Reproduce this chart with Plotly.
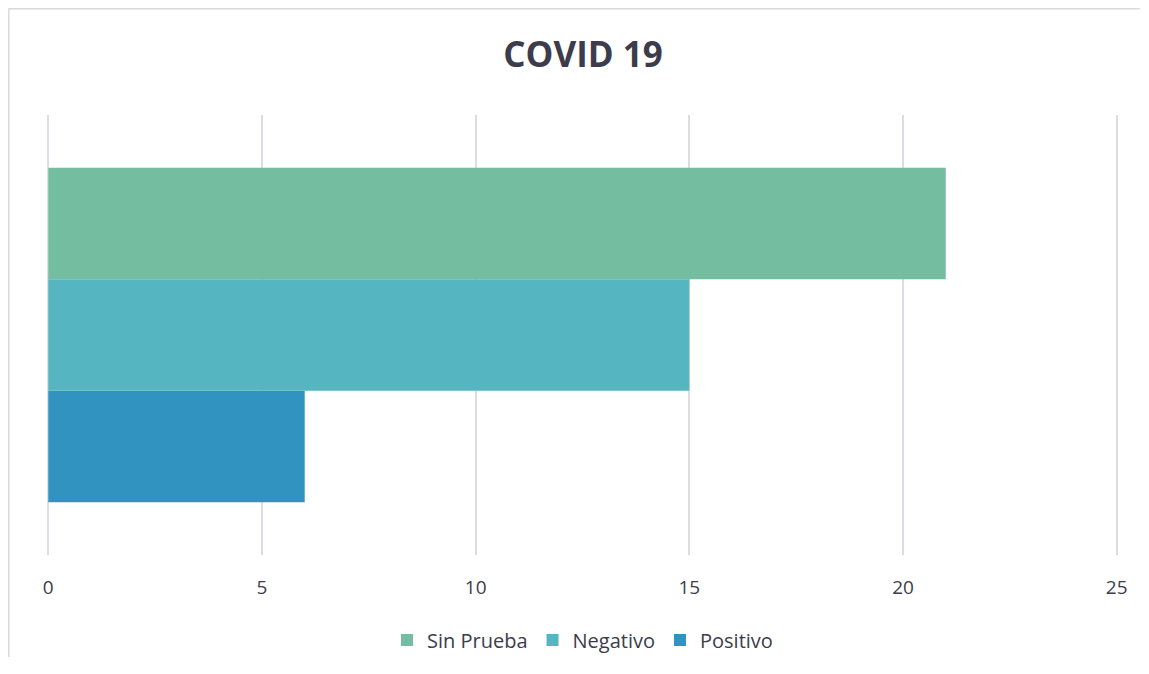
import plotly.graph_objects as go

categories = ["COVID 19"]
series_names = ["Positivo", "Negativo", "Sin Prueba"]
series_values = [[6], [15], [21]]
x_ticks = [0, 5, 10, 15, 20, 25]

COLORS = {
    "Sin Prueba": "#74bda0",
    "Negativo": "#55b6c2",
    "Positivo": "#3194c0",
    "grid": "#dcdce4",
    "text": "#3c3c4c",
    "border": "#d9d9de",
}

# the page puts the figure 8px in from the top-left corner;
# keep it inside the window so no scrollbars appear
W, H = 1133, 650
L, R, T, B = 39, 23, 107, 103
plot_w = W - L - R
plot_h = H - T - B

fig = go.Figure()
for name, vals in zip(series_names, series_values):
    fig.add_trace(go.Bar(
        y=categories,
        x=vals,
        name=name,
        orientation="h",
        marker=dict(color=COLORS[name], line=dict(width=0)),
    ))

# chart frame: only its left and top edges are in view
bx = -(L - 0.5) / plot_w
by = 1 + (T - 0.5) / plot_h
frame = dict(type="line", xref="paper", yref="paper",
             line=dict(color=COLORS["border"], width=2), layer="below")

fig.update_layout(
    width=W,
    height=H,
    barmode="group",
    bargap=0.24,
    bargroupgap=0,
    paper_bgcolor="white",
    plot_bgcolor="white",
    font=dict(family="Open Sans, sans-serif", color=COLORS["text"], size=16),
    margin=dict(l=L, r=R, t=T, b=B, autoexpand=False),
    title=dict(
        text="<b>COVID 19</b>",
        x=(583 - 8) / W,
        xanchor="center",
        y=1 - 47 / H,
        yanchor="middle",
        font=dict(size=35, color=COLORS["text"]),
    ),
    legend=dict(
        orientation="h",
        traceorder="reversed",
        xref="paper",
        x=0.5,
        xanchor="center",
        yref="container",
        y=1 - (640 - 8) / H,
        yanchor="middle",
        font=dict(size=20),
    ),
    shapes=[
        dict(frame, x0=bx, x1=bx, y0=-(B - 1) / plot_h, y1=by),
        dict(frame, x0=bx, x1=(W - L - 1) / plot_w, y0=by, y1=by),
    ],
)

fig.update_xaxes(
    range=[-0.03, 25.03],
    tickvals=x_ticks,
    showgrid=True,
    gridcolor=COLORS["grid"],
    gridwidth=2,
    zeroline=False,
    showline=False,
    ticks="",
    ticklabelstandoff=19,
    tickfont=dict(size=19, color=COLORS["text"]),
)
fig.update_yaxes(
    showticklabels=False,
    showgrid=False,
    zeroline=False,
    showline=False,
)

fig.write_html("out.html")
